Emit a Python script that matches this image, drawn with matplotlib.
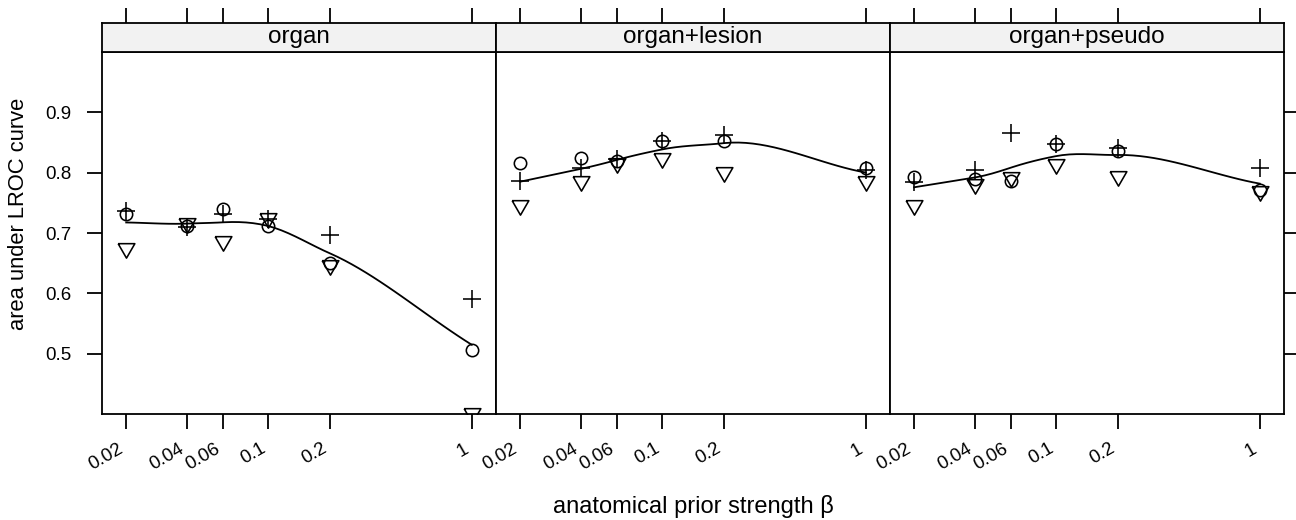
import numpy as np
import matplotlib
matplotlib.use("Agg")
import matplotlib.pyplot as plt
from matplotlib.ticker import FixedLocator, NullLocator

plt.rcParams['font.family'] = ['Liberation Sans', 'DejaVu Sans']

# ---------------- data ----------------
beta = [0.02, 0.04, 0.06, 0.1, 0.2, 1]
beta_tick_labels = ["0.02", "0.04", "0.06", "0.1", "0.2", "1"]
panel_names = ["organ", "organ+lesion", "organ+pseudo"]
y_ticks = [0.5, 0.6, 0.7, 0.8, 0.9]
y_tick_labels = ["0.5", "0.6", "0.7", "0.8", "0.9"]

organ_circle = [0.731, 0.712, 0.739, 0.712, 0.650, 0.506]
organ_plus = [0.736, 0.710, 0.732, 0.724, 0.697, 0.591]
organ_tri = [0.675, 0.716, 0.686, 0.725, 0.647, 0.401]

lesion_circle = [0.816, 0.825, 0.820, 0.852, 0.852, 0.808]
lesion_plus = [0.786, 0.807, 0.822, 0.852, 0.863, 0.804]
lesion_tri = [0.747, 0.787, 0.816, 0.825, 0.801, 0.786]

pseudo_circle = [0.793, 0.790, 0.786, 0.848, 0.836, 0.771]
pseudo_plus = [0.784, 0.805, 0.865, 0.847, 0.841, 0.808]
pseudo_tri = [0.746, 0.781, 0.793, 0.814, 0.794, 0.769]

panel_series = [
    (organ_circle, organ_plus, organ_tri),
    (lesion_circle, lesion_plus, lesion_tri),
    (pseudo_circle, pseudo_plus, pseudo_tri),
]


# ---------------- loess smoother (like lattice panel.loess) ----------------
def local_fit(x, y, w_rob, x0, q):
    d = np.abs(x - x0)
    h = np.sort(d)[q - 1]
    h = max(h, 1e-12) * 1.0001
    u = np.clip(d / h, 0, 1)
    w = (1 - u ** 3) ** 3 * w_rob
    X = np.vstack([np.ones_like(x), x - x0]).T
    WX = X * w[:, None]
    coef = np.linalg.solve(X.T @ WX, WX.T @ y)
    return coef[0], coef[1]


def hermite_curve(xv, fv, sv, xe):
    out = np.empty_like(xe)
    for k, x0 in enumerate(xe):
        j = np.searchsorted(xv, x0, side='right') - 1
        j = min(max(j, 0), len(xv) - 2)
        hh = xv[j + 1] - xv[j]
        t = (x0 - xv[j]) / hh
        h00 = 2 * t ** 3 - 3 * t ** 2 + 1
        h10 = t ** 3 - 2 * t ** 2 + t
        h01 = -2 * t ** 3 + 3 * t ** 2
        h11 = t ** 3 - t ** 2
        out[k] = (h00 * fv[j] + h10 * hh * sv[j] + h01 * fv[j + 1]
                  + h11 * hh * sv[j + 1])
    return out


def loess_smooth(x, y, span=2 / 3, iterations=4, evaluation=50):
    x = np.asarray(x, float)
    y = np.asarray(y, float)
    n = len(x)
    q = int(np.floor(n * span))
    w_rob = np.ones(n)
    xv = np.unique(x)

    def surface(xq):
        fs = np.array([local_fit(x, y, w_rob, v, q) for v in xv])
        return hermite_curve(xv, fs[:, 0], fs[:, 1], np.atleast_1d(xq))

    for it in range(iterations - 1):
        res = y - surface(x)
        s = np.median(np.abs(res))
        if s <= 0:
            break
        u = np.clip(res / (6 * s), -1, 1)
        w_rob = (1 - u ** 2) ** 2
    xe = np.linspace(x.min(), x.max(), evaluation)
    return xe, surface(xe)


# ---------------- figure ----------------
W, H = 1296, 520
fig = plt.figure(figsize=(W / 100, H / 100), dpi=100)


def px(x0, y0, x1, y1):
    return [x0 / W, 1 - y1 / H, (x1 - x0) / W, (y1 - y0) / H]


xs = [102, 496, 890, 1284]
panel_top, panel_bottom = 52, 414
strip_top = 23

lx = np.log10(beta)
pad = 0.07 * (lx.max() - lx.min())
xlim = (10 ** (lx.min() - pad), 10 ** (lx.max() + pad))

tri_marker = [(-1.0, 0.57735), (1.0, 0.57735), (0.0, -1.1547), (-1.0, 0.57735)]
lw = 1.3
tick_len = 10.8
tick_fs = 13.5

for i, name in enumerate(panel_names):
    ax = fig.add_axes(px(xs[i], panel_top, xs[i + 1], panel_bottom))
    sax = fig.add_axes(px(xs[i], strip_top, xs[i + 1], panel_top), sharex=ax)

    circ, plus, tri = panel_series[i]
    ax.plot(beta, circ, linestyle='none', marker='o', ms=8.9, mfc='none',
            mec='black', mew=1.15)
    ax.plot(beta, plus, linestyle='none', marker='+', ms=12.7,
            mec='black', mew=1.15)
    ax.plot(beta, tri, linestyle='none', marker=tri_marker, ms=13.9,
            mfc='none', mec='black', mew=1.15)

    allx = np.log10(np.concatenate([beta, beta, beta]))
    ally = np.concatenate([circ, plus, tri])
    xe, ye = loess_smooth(allx, ally)
    ax.plot(10 ** xe, ye, color='black', lw=1.3)

    ax.set_xscale('log')
    ax.set_xlim(*xlim)
    ax.set_ylim(0.4, 1.0)
    ax.xaxis.set_major_locator(FixedLocator(beta))
    ax.xaxis.set_minor_locator(NullLocator())
    ax.set_xticklabels(beta_tick_labels, rotation=30, ha='right', fontsize=tick_fs)
    ax.tick_params(axis='x', which='major', direction='out', length=tick_len,
                   width=lw, pad=8.0, bottom=True, top=False)
    ax.set_yticks(y_ticks)
    ax.set_yticklabels(y_tick_labels, fontsize=tick_fs)
    ax.tick_params(axis='y', direction='out', length=tick_len, width=lw,
                   pad=11.0, left=(i == 0), right=(i == 2),
                   labelleft=(i == 0), labelright=False)
    for sp in ax.spines.values():
        sp.set_linewidth(lw)

    # strip
    sax.set_facecolor('#f2f2f2')
    sax.set_ylim(0, 1)
    sax.set_yticks([])
    sax.tick_params(axis='x', which='both', direction='out', length=tick_len,
                    width=lw, top=True, bottom=False, labeltop=False,
                    labelbottom=False)
    sax.xaxis.set_minor_locator(NullLocator())
    for sp in sax.spines.values():
        sp.set_linewidth(lw)
    sax.text(0.5, 0.5, name, transform=sax.transAxes, ha='center',
             va='center', fontsize=17.5)

fig.text(19 / W, 1 - 214 / H, "area under LROC curve", rotation=90,
         ha='center', va='center', fontsize=15.8)
fig.text(693 / W, 1 - 506 / H, "anatomical prior strength β",
         ha='center', va='center', fontsize=17)

fig.savefig("out.png", dpi=100)
